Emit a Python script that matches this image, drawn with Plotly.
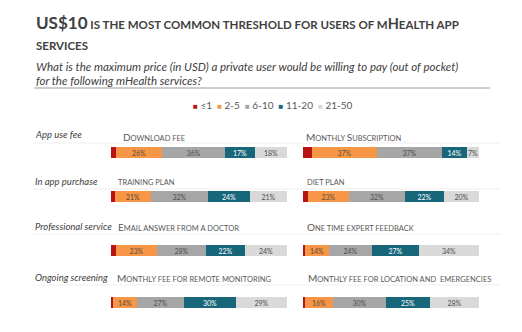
import plotly.graph_objects as go

W, H = 522, 332

price_bands = ["≤1", "2-5", "6-10", "11-20", "21-50"]
band_colors = ["#B81414", "#F79646", "#A6A6A6", "#17667A", "#D9D9D9"]
band_text_colors = ["#FFFFFF", "#5A4A3A", "#4D4D4D", "#FFFFFF", "#4D4D4D"]

groups = ["App use fee", "In app purchase", "Professional service", "Ongoing screening"]

items_left = ["Download fee", "training plan", "Email answer from a doctor",
              "Monthly fee for remote monitoring"]
items_right = ["Monthly Subscription", "diet plan", "One time expert feedback",
               "Monthly fee for location and  emergencies"]

download_fee = [3, 26, 36, 17, 18]
monthly_subscription = [5, 37, 37, 14, 7]
training_plan = [2, 21, 32, 24, 21]
diet_plan = [3, 23, 32, 22, 20]
email_doctor = [3, 23, 28, 22, 24]
expert_feedback = [1, 14, 24, 27, 34]
remote_monitoring = [1, 14, 27, 30, 29]
location_emergencies = [1, 16, 30, 25, 28]

values_left = [download_fee, training_plan, email_doctor, remote_monitoring]
values_right = [monthly_subscription, diet_plan, expert_feedback, location_emergencies]

FONT = "Lato, 'Open Sans', sans-serif"
TXT = "#404040"

# layout (pixels)
row_centers = [152, 196, 250, 302]
label_rows = [137, 182, 227, 278]
group_rows = [135, 181, 226, 277]
sep_rows = [143, 189, 234, 285]
col_x = [(111, 287), (303, 479)]
label_x = [[121, 116, 116, 115], [304, 305, 305, 306]]


def py(p):
    return 1 - p / H


def px(p):
    return p / W


def smallcaps(s, big, small):
    out = []
    for ch in s:
        if ch.islower():
            out.append(f"<span style='font-size:{small}px'>{ch.upper()}</span>")
        elif ch == " ":
            out.append(f"<span style='font-size:{small}px'> </span>")
        else:
            out.append(f"<span style='font-size:{big}px'>{ch}</span>")
    return "".join(out)


fig = go.Figure()
layout_axes = {}
annotations = []
k = 0
for col, (names, vals) in enumerate([(items_left, values_left), (items_right, values_right)]):
    for r in range(4):
        k += 1
        xa = "x" if k == 1 else f"x{k}"
        ya = "y" if k == 1 else f"y{k}"
        v = vals[r]
        for b in range(5):
            fig.add_trace(go.Bar(
                x=[v[b]], y=[names[r]], orientation="h",
                marker=dict(color=band_colors[b], line=dict(width=0)),
                width=0.5,
                text=["" if b == 0 else f"{v[b]}%"],
                textposition="inside", insidetextanchor="middle",
                textfont=dict(size=7, color=band_text_colors[b], family=FONT),
                showlegend=False, hoverinfo="skip",
                xaxis=xa, yaxis=ya,
            ))
        xn = "xaxis" if k == 1 else f"xaxis{k}"
        yn = "yaxis" if k == 1 else f"yaxis{k}"
        c = row_centers[r]
        layout_axes[xn] = dict(domain=[px(col_x[col][0]), px(col_x[col][1])],
                               range=[0, sum(v)], visible=False, anchor=ya)
        layout_axes[yn] = dict(domain=[py(c + 11), py(c - 11)], range=[-0.5, 0.5],
                               visible=False, anchor=xa)
        annotations.append(dict(
            x=px(label_x[col][r]), y=py(label_rows[r]), xref="paper", yref="paper",
            xanchor="left", yanchor="middle", showarrow=False,
            text=smallcaps(names[r], 10, 7.5),
            font=dict(family=FONT, color="#595959", size=10)))

for r, g in enumerate(groups):
    annotations.append(dict(
        x=px(33), y=py(group_rows[r]), xref="paper", yref="paper",
        xanchor="left", yanchor="middle", showarrow=False,
        text=f"<i>{g}</i>", font=dict(family=FONT, color=TXT, size=9.5)))

# title
title_html = ("<b><span style='font-size:17px'>US$10</span>"
              + smallcaps(" is the most common threshold for users of mHealth app", 14.5, 11.5)
              + "</b>")
annotations.append(dict(x=px(34), y=py(23), xref="paper", yref="paper",
                        xanchor="left", yanchor="middle", showarrow=False,
                        text=title_html, font=dict(family=FONT, color=TXT, size=14.5)))
annotations.append(dict(x=px(34), y=py(46), xref="paper", yref="paper",
                        xanchor="left", yanchor="middle", showarrow=False,
                        text="<b>" + smallcaps("services", 14.5, 11.5) + "</b>",
                        font=dict(family=FONT, color=TXT, size=14.5)))
annotations.append(dict(x=px(34), y=py(66), xref="paper", yref="paper",
                        xanchor="left", yanchor="middle", showarrow=False,
                        text="<i>What is the maximum price (in USD) a private user would be willing to pay (out of pocket)</i>",
                        font=dict(family=FONT, color=TXT, size=11.5)))
annotations.append(dict(x=px(34), y=py(80), xref="paper", yref="paper",
                        xanchor="left", yanchor="middle", showarrow=False,
                        text="<i>for the following mHealth services?</i>",
                        font=dict(family=FONT, color=TXT, size=11.5)))

# legend
leg_parts = []
for name, colr in zip(price_bands, band_colors):
    leg_parts.append(f"<span style='color:{colr};font-size:8px'>■</span> {name}")
annotations.append(dict(x=px(273), y=py(105), xref="paper", yref="paper",
                        xanchor="center", yanchor="middle", showarrow=False,
                        text="\u00a0\u00a0".join(leg_parts),
                        font=dict(family=FONT, color="#595959", size=10)))

shapes = [dict(type="line", xref="paper", yref="paper", x0=px(34), x1=px(490),
               y0=py(88), y1=py(88), line=dict(color="#9A9A9A", width=1))]
for s in sep_rows:
    shapes.append(dict(type="line", xref="paper", yref="paper", x0=px(33), x1=px(500),
                       y0=py(s), y1=py(s), line=dict(color="#EFEFEF", width=1)))

fig.update_layout(
    width=W, height=H, margin=dict(l=0, r=0, t=0, b=0),
    paper_bgcolor="white", plot_bgcolor="white",
    barmode="stack", bargap=0,
    uniformtext=dict(mode="show", minsize=7),
    annotations=annotations, shapes=shapes,
    **layout_axes,
)

fig.write_html("out.html")
